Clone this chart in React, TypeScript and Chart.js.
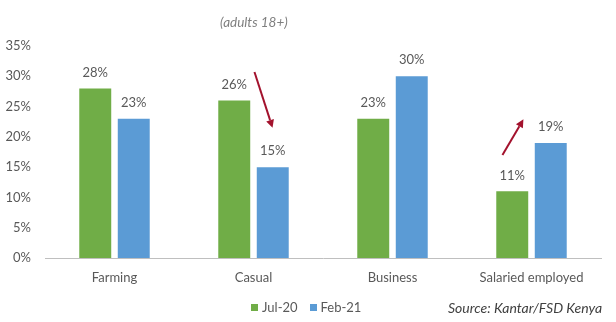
import React, { useEffect, useRef } from "react";
import { Chart, registerables } from "chart.js";

Chart.register(...registerables);

const categories = ["Farming", "Casual", "Business", "Salaried employed"];
const jul20 = [28, 26, 23, 11];
const feb21 = [23, 15, 30, 19];
const seriesNames = ["Jul-20", "Feb-21"];
const yTicks = [0, 5, 10, 15, 20, 25, 30, 35];
// arrow annotations in data space: category index, offset (fraction of category), value
const arrows = [
  { cat: 1, from: [0.007, 30.7], to: [0.137, 21.5] },
  { cat: 3, from: [-0.209, 17.0], to: [-0.058, 22.9] },
];

const GREEN = "#70AD47";
const BLUE = "#5B9BD5";
const TEXT = "#595959";
const FONT = "Lato";

const labelPlugin = {
  id: "valueLabels",
  afterDatasetsDraw(chart: any) {
    const ctx = chart.ctx;
    ctx.save();
    ctx.font = `13px ${FONT}`;
    ctx.fillStyle = TEXT;
    ctx.textAlign = "center";
    ctx.textBaseline = "middle";
    chart.data.datasets.forEach((ds: any, di: number) => {
      const meta = chart.getDatasetMeta(di);
      meta.data.forEach((el: any, i: number) => {
        ctx.fillText(ds.data[i] + "%", el.x, el.y - 16);
      });
    });
    ctx.restore();
  },
};

const arrowPlugin = {
  id: "arrows",
  afterDatasetsDraw(chart: any) {
    const ctx = chart.ctx;
    const xs = chart.scales.x;
    const ys = chart.scales.y;
    const cw = xs.width / categories.length;
    ctx.save();
    ctx.strokeStyle = "#A3122D";
    ctx.fillStyle = "#A3122D";
    ctx.lineWidth = 2;
    arrows.forEach((a) => {
      const cx = xs.getPixelForValue(a.cat);
      const x1 = cx + a.from[0] * cw;
      const y1 = ys.getPixelForValue(a.from[1]);
      const x2 = cx + a.to[0] * cw;
      const y2 = ys.getPixelForValue(a.to[1]);
      const ang = Math.atan2(y2 - y1, x2 - x1);
      const hl = 8;
      const bx = x2 - hl * Math.cos(ang);
      const by = y2 - hl * Math.sin(ang);
      ctx.beginPath();
      ctx.moveTo(x1, y1);
      ctx.lineTo(bx, by);
      ctx.stroke();
      ctx.beginPath();
      ctx.moveTo(x2, y2);
      ctx.lineTo(bx + 4 * Math.cos(ang + Math.PI / 2), by + 4 * Math.sin(ang + Math.PI / 2));
      ctx.lineTo(bx + 4 * Math.cos(ang - Math.PI / 2), by + 4 * Math.sin(ang - Math.PI / 2));
      ctx.closePath();
      ctx.fill();
    });
    ctx.restore();
  },
};

export default function App() {
  const ref = useRef<HTMLCanvasElement>(null);
  useEffect(() => {
    if (!ref.current) return;
    const chart = new Chart(ref.current, {
      type: "bar",
      data: {
        labels: categories,
        datasets: [
          { label: seriesNames[0], data: jul20, backgroundColor: GREEN, categoryPercentage: 0.554, barPercentage: 0.83 },
          { label: seriesNames[1], data: feb21, backgroundColor: BLUE, categoryPercentage: 0.554, barPercentage: 0.83 },
        ],
      },
      options: {
        responsive: false,
        animation: false,
        layout: { padding: { left: 0, right: 15, top: 46, bottom: 34 } },
        plugins: { legend: { display: false }, tooltip: { enabled: false }, title: { display: false } },
        scales: {
          x: {
            grid: { display: false, drawTicks: false },
            border: { display: true, color: "#BFBFBF", width: 1 },
            ticks: { font: { family: FONT, size: 13 }, color: TEXT, padding: 12 },
            afterFit: (s: any) => { s.height = 30; },
          },
          y: {
            min: yTicks[0],
            max: yTicks[yTicks.length - 1],
            afterBuildTicks: (s: any) => { s.ticks = yTicks.map((v) => ({ value: v })); },
            grid: { display: false, drawTicks: false },
            border: { display: false },
            ticks: { font: { family: FONT, size: 13 }, color: TEXT, padding: 14, callback: (v: any) => v + "%" },
            afterFit: (s: any) => { s.width = 45; },
          },
        },
      },
      plugins: [labelPlugin, arrowPlugin],
    });
    return () => chart.destroy();
  }, []);

  const legendItem = (color: string, text: string) => (
    <span style={{ display: "inline-flex", alignItems: "center", marginRight: 12 }}>
      <span style={{ width: 7, height: 7, background: color, display: "inline-block", marginRight: 4 }} />
      <span>{text}</span>
    </span>
  );

  return (
    <div style={{ position: "fixed", left: 0, top: 0, width: 616, height: 322, overflow: "hidden", background: "#fff" }}>
      <canvas ref={ref} width={616} height={322} style={{ position: "absolute", left: 0, top: 0 }} />
      <div style={{ position: "absolute", left: 220, top: 14, font: `italic 13.5px ${FONT}`, color: "#7F7F7F", whiteSpace: "nowrap" }}>
        (adults 18+)
      </div>
      <div style={{ position: "absolute", left: 251, top: 299, font: `13px ${FONT}`, color: TEXT, whiteSpace: "nowrap", display: "flex" }}>
        {legendItem(GREEN, seriesNames[0])}
        {legendItem(BLUE, seriesNames[1])}
      </div>
      <div style={{ position: "absolute", left: 448, top: 299, font: `italic 14px ${FONT}`, color: "#404040", whiteSpace: "nowrap" }}>
        Source: Kantar/FSD Kenya
      </div>
    </div>
  );
}
